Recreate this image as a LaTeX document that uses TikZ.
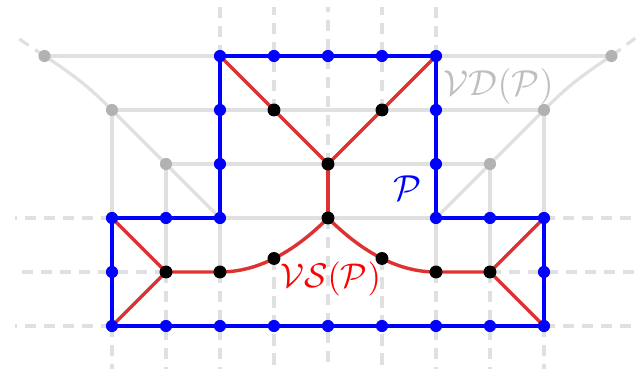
\documentclass[tikz,border=0pt]{standalone}
\usepackage{amsmath}
\definecolor{vdline}{RGB}{224,224,224}
\definecolor{vddot}{RGB}{178,178,178}
\definecolor{vdtext}{RGB}{190,190,190}
\definecolor{skelred}{RGB}{222,50,50}
\begin{document}
\begin{tikzpicture}[x=1cm,y=1cm,
  vd/.style={line width=1.7pt,draw=vdline},
  ray/.style={vd,dash pattern=on 6pt off 4pt},
  bnd/.style={line width=2pt,draw=blue,line join=round},
  skel/.style={line width=1.8pt,draw=skelred},
  bdot/.style={circle,fill=blue,inner sep=0pt,minimum size=6.4pt},
  kdot/.style={circle,fill=black,inner sep=0pt,minimum size=6.8pt},
  gdot/.style={circle,fill=vddot,inner sep=0pt,minimum size=6.4pt},
  lab/.style={scale=1.9}]
\useasboundingbox (-6.074,-0.796) rectangle (5.741,6.037);
\coordinate (top) at (0,5.9);
\coordinate (bot) at (0,-0.8);
\coordinate (lft) at (-5.8,0);
\coordinate (rgt) at (5.75,0);
\foreach \i in {0,...,8} \coordinate (b\i) at (\i-4,0);
\foreach \i in {2,...,6} \coordinate (t\i) at (\i-4,5);
\foreach \i in {0,1,2} {\coordinate (sl\i) at (\i-4,2); \coordinate (sr\i) at (4-\i,2);}
\foreach \j in {3,4} {\coordinate (l\j) at (-2,\j); \coordinate (r\j) at (2,\j);}
\coordinate (ml) at (-4,1);
\coordinate (mr) at (4,1);
\coordinate (k1) at (-1,4);
\coordinate (k2) at (1,4);
\coordinate (k3) at (0,3);
\coordinate (k4) at (0,2);
\coordinate (k5) at (-1,1.25);
\coordinate (k6) at (1,1.25);
\coordinate (k7) at (-2,1);
\coordinate (k8) at (2,1);
\coordinate (k9) at (-3,1);
\coordinate (k10) at (3,1);
\coordinate (g1) at (-5.25,5);
\coordinate (g2) at (-4,4);
\coordinate (g3) at (-3,3);
\coordinate (g4) at (5.25,5);
\coordinate (g5) at (4,4);
\coordinate (g6) at (3,3);
\coordinate (e1) at (-5.74,5.33);
\coordinate (e2) at (5.69,5.33);
\foreach \p in {b0,k9,k7,k5,k4,k6,k8,k10,b8} \draw[ray] (\p) -- (\p |- bot);
\foreach \p in {t2,k1,k3,k2,t6} \draw[ray] (\p) -- (\p |- top);
\foreach \p in {b0,k9,sl0} \draw[ray] (\p) -- (\p -| lft);
\foreach \p in {b8,k10,sr0} \draw[ray] (\p) -- (\p -| rgt);
\draw[ray] (g1) -- (e1);
\draw[ray] (g4) -- (e2);
\draw[vd] (g1) -- (t2);
\draw[vd] (t6) -- (g4);
\draw[vd] (g2) -- (g5);
\draw[vd] (g3) -- (g6);
\draw[vd] (sl0) -- (sr0);
\draw[vd] (g2) -- (sl0);
\draw[vd] (g3) -- (k9);
\draw[vd] (sl2) -- (k7);
\draw[vd] (sr2) -- (k8);
\draw[vd] (g6) -- (k10);
\draw[vd] (g5) -- (sr0);
\draw[vd] (sl2) -- (g3) -- (g2) to[out=135,in=-33] (g1);
\draw[vd] (sr2) -- (g6) -- (g5) to[out=45,in=-147] (g4);
\draw[skel] (t2) -- (k3) -- (t6);
\draw[skel] (k3) -- (k4);
\draw[skel] (sl0) -- (k9) -- (b0);
\draw[skel] (sr0) -- (k10) -- (b8);
\draw[skel] (k9) -- (k7) .. controls +(0.667,0) and +(-0.667,-0.667) .. (k4)
  .. controls +(0.667,-0.667) and +(-0.667,0) .. (k8) -- (k10);
\draw[bnd] (t2) -- (t6) -- (sr2) -- (sr0) -- (b8) -- (b0) -- (sl0) -- (sl2) -- cycle;
\foreach \p in {g1,g2,g3,g4,g5,g6} \node[gdot] (d\p) at (\p) {};
\foreach \p in {b0,b1,b2,b3,b4,b5,b6,b7,b8,t2,t3,t4,t5,t6,sl0,sl1,sl2,sr0,sr1,sr2,l3,l4,r3,r4,ml,mr}
  \node[bdot] (d\p) at (\p) {};
\foreach \p in {k1,k2,k3,k4,k5,k6,k7,k8,k9,k10} \node[kdot] (d\p) at (\p) {};
\node[lab,text=vdtext] (vdlab) at (3.16,4.44) {$\mathcal{VD}(\mathcal{P})$};
\node[lab,text=blue] (plab) at (1.48,2.56) {$\mathcal{P}$};
\node[lab,text=red,scale=0.95] (vslab) at (0.05,0.88) {$\mathcal{VS}(\mathcal{P})$};
\end{tikzpicture}
\end{document}
